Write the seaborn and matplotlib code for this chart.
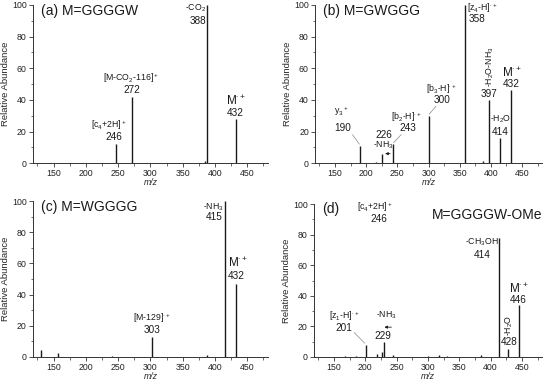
import matplotlib

matplotlib.use("Agg")
import matplotlib.pyplot as plt
import seaborn as sns
from matplotlib.ticker import MultipleLocator

# =======================================================================
# 数据: 各质谱图的峰位置 (m/z) 与相对丰度
# =======================================================================
mz_a = [178, 222, 246, 272, 385, 388, 432]
ab_a = [0.4, 0.4, 12, 42, 1.2, 100, 28]

mz_b = [190, 215, 226, 243, 300, 358, 388, 397, 414, 432]
ab_b = [11, 1, 6, 12, 30, 100, 1.5, 40, 16, 46]

mz_c = [130, 157, 240, 303, 388, 415, 432]
ab_c = [4.2, 2.8, 0.6, 12.5, 1, 100, 47]

mz_d = [168, 185, 201, 218, 227, 229, 244, 300, 318, 330, 385, 414, 428, 446]
ab_d = [0.5, 0.5, 8, 2, 3, 10, 1.5, 0.8, 1, 0.8, 1, 78, 5.5, 34]

panel_titles = ["(a) M=GGGGW", "(b) M=GWGGG", "(c) M=WGGGG", "(d)"]
extra_title_d = "M=GGGGW-OMe"

x_ticks = [150, 200, 250, 300, 350, 400, 450]
y_ticks = [0, 20, 40, 60, 80, 100]

# 字号: 离子名称 / 质荷比数字 / 分子离子
FS_ION, FS_NUM, FS_M = 6.3, 7.2, 8.5

# 标注文本 (text, x, y, ha, size, rotation)
labels_a = [
    (r"-CO$_2$", 386, 98, "right", FS_ION, 0),
    ("388", 386, 90, "right", FS_NUM, 0),
    (r"[M-CO$_2$-116]$^+$", 270, 54, "center", FS_ION, 0),
    ("272", 271, 46, "center", FS_NUM, 0),
    (r"[c$_4$+2H]$^+$", 236, 24, "center", FS_ION, 0),
    ("246", 244, 16.5, "center", FS_NUM, 0),
    (r"M$^{\cdot+}$", 433, 39.5, "center", FS_M, 0),
    ("432", 432, 32, "center", FS_NUM, 0),
]
labels_b = [
    (r"y$_3$$^+$", 160, 33, "center", FS_ION, 0),
    ("190", 163, 22, "center", FS_NUM, 0),
    ("226", 228, 18, "center", FS_NUM, 0),
    (r"-NH$_3$", 228, 11.5, "center", FS_ION, 0),
    (r"[b$_2$-H]$^{\cdot+}$", 265, 29, "center", FS_ION, 0),
    ("243", 267, 22, "center", FS_NUM, 0),
    (r"[b$_3$-H]$^{\cdot+}$", 320, 47, "center", FS_ION, 0),
    ("300", 321, 40, "center", FS_NUM, 0),
    (r"[z$_4$-H]$^{\cdot+}$", 361, 98, "left", FS_ION, 0),
    ("358", 377, 91, "center", FS_NUM, 0),
    (r"-H$_2$O-NH$_3$", 399, 61, "center", FS_ION, 90),
    ("397", 397, 44, "center", FS_NUM, 0),
    (r"-H$_2$O", 415, 28, "center", FS_ION, 0),
    ("414", 415, 20, "center", FS_NUM, 0),
    (r"M$^{\cdot+}$", 434, 57, "center", FS_M, 0),
    ("432", 433, 50, "center", FS_NUM, 0),
]
labels_c = [
    (r"-NH$_3$", 413, 96, "right", FS_ION, 0),
    ("415", 412, 89.5, "right", FS_NUM, 0),
    (r"M$^{\cdot+}$", 435, 60, "center", FS_M, 0),
    ("432", 433, 52, "center", FS_NUM, 0),
    (r"[M-129]$^{\cdot+}$", 302, 25, "center", FS_ION, 0),
    ("303", 302, 17, "center", FS_NUM, 0),
]
labels_d = [
    (r"[c$_4$+2H]$^+$", 243, 98, "right", FS_ION, 0),
    ("246", 221, 90, "center", FS_NUM, 0),
    (r"[z$_1$-H]$^{\cdot+}$", 166, 26.5, "center", FS_ION, 0),
    ("201", 166, 19, "center", FS_NUM, 0),
    (r"-NH$_3$", 233, 27, "center", FS_ION, 0),
    ("229", 228, 13.5, "center", FS_NUM, 0),
    (r"-CH$_3$OH", 386, 75, "center", FS_ION, 0),
    ("414", 386, 67, "center", FS_NUM, 0),
    (r"-H$_2$O", 430, 21, "center", FS_ION, 90),
    ("428", 429, 9.7, "center", FS_NUM, 0),
    (r"M$^{\cdot+}$", 445, 44.5, "center", FS_M, 0),
    ("446", 444, 37, "center", FS_NUM, 0),
]

sns.set_theme(style="ticks")
plt.rcParams["font.family"] = ["Liberation Sans", "DejaVu Sans"]
plt.rcParams["mathtext.fontset"] = "custom"
plt.rcParams["mathtext.rm"] = "Liberation Sans"
plt.rcParams["mathtext.it"] = "Liberation Sans:italic"
plt.rcParams["mathtext.bf"] = "Liberation Sans:bold"


def draw_spectrum(ax, mz, ab, labels, title):
    ax.vlines(mz, 0, ab, color="#1a1a1a", linewidth=1.0)
    ax.set_xlim(118, 482)
    ax.set_ylim(0, 100)
    ax.set_xticks(x_ticks)
    ax.set_yticks(y_ticks)
    ax.xaxis.set_minor_locator(MultipleLocator(25))
    ax.yaxis.set_minor_locator(MultipleLocator(10))
    ax.tick_params(which="major", direction="out", length=3, width=0.6, labelsize=6.3,
                   pad=1.5, color="#333333", labelcolor="#222222")
    ax.tick_params(which="minor", direction="out", length=1.8, width=0.5, color="#333333")
    for side in ["left", "bottom"]:
        ax.spines[side].set_linewidth(0.7)
        ax.spines[side].set_color("#333333")
    sns.despine(ax=ax)
    ax.set_xlabel("m/z", fontsize=6.3, style="italic", labelpad=0)
    ax.set_ylabel("Relative Abundance", fontsize=6.8, labelpad=1.5)
    for text, x, y, ha, size, rot in labels:
        ax.text(x, y, text, ha=ha, va="center", fontsize=size, rotation=rot, color="#1a1a1a")
    ax.text(131, 96.5, title, ha="left", va="center", fontsize=10, color="#1a1a1a")


fig = plt.figure(figsize=(5.48, 3.83), dpi=100)
ax_a = fig.add_axes([0.060, 0.574, 0.429, 0.413])
ax_b = fig.add_axes([0.575, 0.574, 0.414, 0.413])
ax_c = fig.add_axes([0.060, 0.068, 0.429, 0.407])
ax_d = fig.add_axes([0.573, 0.068, 0.416, 0.399])

draw_spectrum(ax_a, mz_a, ab_a, labels_a, panel_titles[0])
draw_spectrum(ax_b, mz_b, ab_b, labels_b, panel_titles[1])
draw_spectrum(ax_c, mz_c, ab_c, labels_c, panel_titles[2])
draw_spectrum(ax_d, mz_d, ab_d, labels_d, panel_titles[3])
ax_d.text(1.0, 0.93, extra_title_d, transform=ax_d.transAxes, ha="right", va="center",
          fontsize=10, color="#1a1a1a")

# 引导线与箭头
lead = dict(color="#888888", linewidth=0.5)
ax_b.plot([178, 189], [18, 12], **lead)
ax_b.plot([256, 244], [18, 13], **lead)
ax_b.plot([312, 301], [36, 31], **lead)
ax_b.annotate("", xy=(226, 6), xytext=(243, 6),
              arrowprops=dict(arrowstyle="-|>", lw=0.6, color="#1a1a1a", mutation_scale=4))
ax_d.plot([182, 199], [16, 9], **lead)
ax_d.annotate("", xy=(226, 19.5), xytext=(246, 19.5),
              arrowprops=dict(arrowstyle="-|>", lw=0.6, color="#1a1a1a", mutation_scale=4))

fig.savefig("out.png", dpi=100)
